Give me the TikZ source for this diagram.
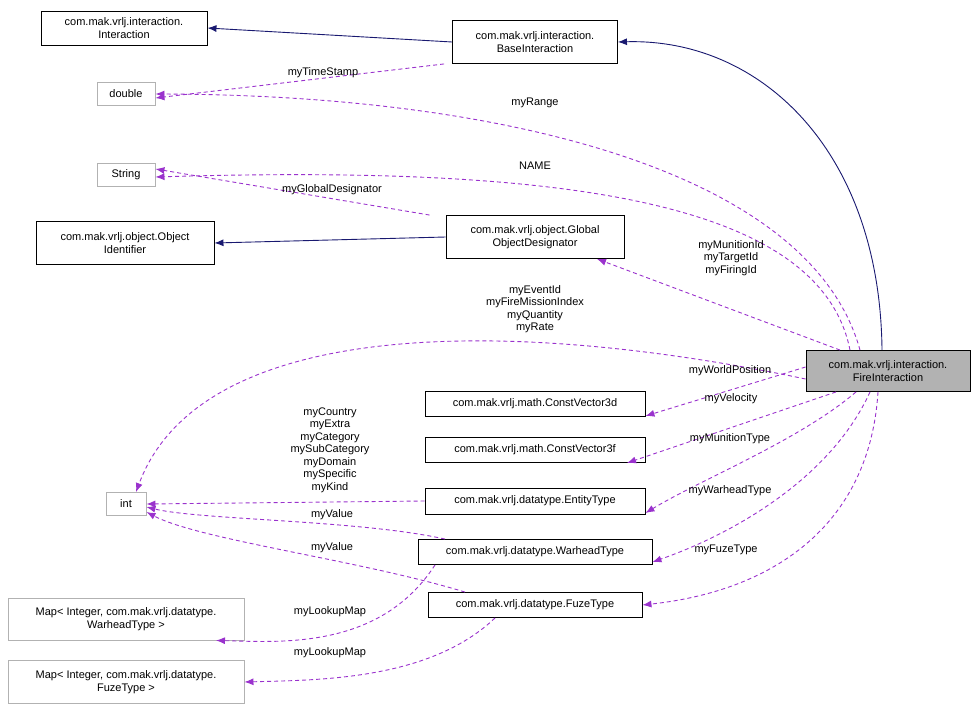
\documentclass[tikz,border=0pt]{standalone}
\usepackage{fontspec}
\setmainfont{Liberation Sans}
\usetikzlibrary{arrows.meta}
\begin{document}
\begin{tikzpicture}[x=1pt, y=-1pt,
font=\fontsize{11}{12.5}\selectfont,
classnode/.style={rectangle, draw=black, line width=0.9pt, fill=white, align=center, inner sep=2pt},
extnode/.style={rectangle, draw=black!30, line width=0.9pt, fill=white, align=center, inner sep=2pt},
basearrow/.style={draw={rgb,255:red,25;green,25;blue,112}, line width=0.9pt, -{Latex[length=9pt,width=7pt]}},
usearrow/.style={draw={rgb,255:red,154;green,50;blue,205}, line width=0.9pt, dash pattern=on 4pt off 3pt, -{Latex[length=9pt,width=7pt]}},
lab/.style={align=center, inner sep=0pt, font=\fontsize{11}{12.5}\selectfont},
]
\useasboundingbox (0,0) rectangle (976,709);
%Nodes
\node[classnode, minimum width=166pt, minimum height=34pt] (Interaction) at (124,28) {com.mak.vrlj.interaction.\\Interaction};
\node[classnode, minimum width=165pt, minimum height=43pt] (Base) at (535,42) {com.mak.vrlj.interaction.\\BaseInteraction};
\node[extnode, minimum width=58pt, minimum height=23pt] (double) at (126,94) {double};
\node[extnode, minimum width=58pt, minimum height=23pt] (String) at (126,175) {String};
\node[classnode, minimum width=178pt, minimum height=43pt] (ObjId) at (125,243) {com.mak.vrlj.object.Object\\Identifier};
\node[classnode, minimum width=178pt, minimum height=43pt] (GlobalOD) at (535,237) {com.mak.vrlj.object.Global\\ObjectDesignator};
\node[classnode, fill=black!30, minimum width=164pt, minimum height=41pt] (Fire) at (888,371) {com.mak.vrlj.interaction.\\FireInteraction};
\node[classnode, minimum width=220pt, minimum height=25pt] (Vec3d) at (535,404) {com.mak.vrlj.math.ConstVector3d};
\node[classnode, minimum width=220pt, minimum height=25pt] (Vec3f) at (535,450) {com.mak.vrlj.math.ConstVector3f};
\node[extnode, minimum width=40pt, minimum height=23pt] (int) at (126,504) {int};
\node[classnode, minimum width=220pt, minimum height=26pt] (Entity) at (535,501) {com.mak.vrlj.datatype.EntityType};
\node[classnode, minimum width=234pt, minimum height=25pt] (Warhead) at (535,552) {com.mak.vrlj.datatype.WarheadType};
\node[classnode, minimum width=214pt, minimum height=25pt] (Fuze) at (535,605) {com.mak.vrlj.datatype.FuzeType};
\node[extnode, minimum width=236pt, minimum height=42pt] (MapW) at (126,619) {Map< Integer, com.mak.vrlj.datatype.\\WarheadType >};
\node[extnode, minimum width=236pt, minimum height=43pt] (MapF) at (126,682) {Map< Integer, com.mak.vrlj.datatype.\\FuzeType >};

%Lines
\draw[basearrow] (Base.west) -- (Interaction.east);
\draw[basearrow] ([xshift=-6pt]Fire.north) .. controls (880,150) and (760,38) .. (Base.east);
\draw[basearrow] (GlobalOD.west) -- (ObjId.east);
\draw[usearrow] ([xshift=-8pt]Base.south west) -- ([yshift=-4pt]double.east);
\draw[usearrow] ([xshift=-28pt]Fire.north) .. controls (810,170) and (500,95) .. (double.east);
\draw[usearrow] ([xshift=-38pt]Fire.north) .. controls (820,200) and (560,165) .. ([yshift=-2pt]String.east);
\draw[usearrow] ([xshift=-16pt]GlobalOD.north west) -- ([yshift=6pt]String.east);
\draw[usearrow] ([xshift=-48pt]Fire.north) -- ([xshift=62pt]GlobalOD.south);
\draw[usearrow] ([yshift=-8pt]Fire.west) .. controls (500,315) and (200,320) .. ([xshift=10pt]int.north);
\draw[usearrow] ([yshift=4pt]Fire.west) -- ([yshift=-12pt]Vec3d.east);
\draw[usearrow] ([xshift=-52pt]Fire.south) -- ([xshift=92pt]Vec3f.south);
\draw[usearrow] ([xshift=-32pt]Fire.south) .. controls (800,440) and (700,480) .. ([yshift=-12pt]Entity.east);
\draw[usearrow] ([xshift=-18pt]Fire.south) .. controls (830,480) and (730,535) .. ([yshift=-10pt]Warhead.east);
\draw[usearrow] ([xshift=-10pt]Fire.south) .. controls (870,520) and (780,590) .. (Fuze.east);
\draw[usearrow] (Entity.west) -- (int.east);
\draw[usearrow] ([xshift=-90pt]Warhead.north) .. controls (360,520) and (200,520) .. ([yshift=-3pt]int.east);
\draw[usearrow] ([xshift=-70pt]Fuze.north) .. controls (360,560) and (200,540) .. ([yshift=-8pt]int.east);
\draw[usearrow] ([xshift=-100pt]Warhead.south) .. controls (380,650) and (280,642) .. ([xshift=90pt]MapW.south);
\draw[usearrow] ([xshift=-40pt]Fuze.south) .. controls (430,680) and (320,680) .. (MapF.east);

%Labels
\node[lab] (lTime) at (323,73) {myTimeStamp};
\node[lab] (lRange) at (535,103) {myRange};
\node[lab] (lName) at (535,166) {NAME};
\node[lab] (lGlobal) at (332,190) {myGlobalDesignator};
\node[lab] (lIds) at (731,258) {myMunitionId\\myTargetId\\myFiringId};
\node[lab] (lEvent) at (535,309) {myEventId\\myFireMissionIndex\\myQuantity\\myRate};
\node[lab] (lPos) at (730,371) {myWorldPosition};
\node[lab] (lVel) at (731,399) {myVelocity};
\node[lab] (lMun) at (730,439) {myMunitionType};
\node[lab] (lWar) at (730,491) {myWarheadType};
\node[lab] (lFuze) at (726,550) {myFuzeType};
\node[lab] (lEnt) at (330,450) {myCountry\\myExtra\\myCategory\\mySubCategory\\myDomain\\mySpecific\\myKind};
\node[lab] (lVal1) at (332,515) {myValue};
\node[lab] (lVal2) at (332,548) {myValue};
\node[lab] (lMapW) at (330,612) {myLookupMap};
\node[lab] (lMapF) at (330,653) {myLookupMap};
\end{tikzpicture}
\end{document}
